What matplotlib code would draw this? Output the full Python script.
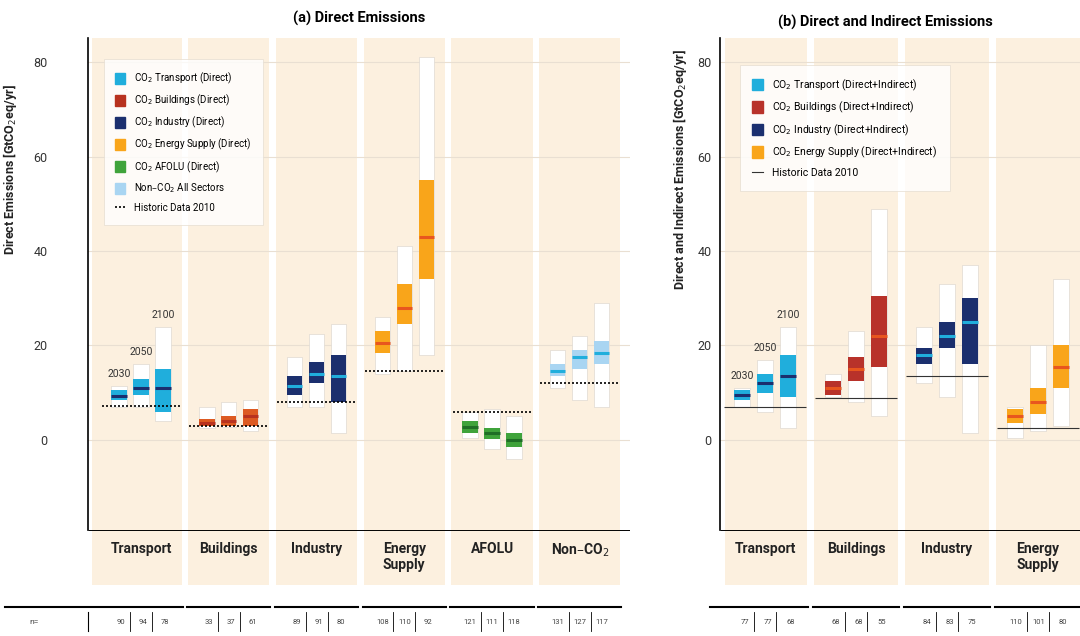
import matplotlib.pyplot as plt
import matplotlib.transforms as mtransforms
from matplotlib.lines import Line2D
from matplotlib.patches import Patch

plt.rcParams['font.family'] = ['Roboto', 'DejaVu Sans']

# Data
# ----------------------------------------------------------------------------

years = ['2030', '2050', '2100']

# panel (a): direct emissions [GtCO2eq/yr], per sector: min, q25, median, q75, max
sectors_a = ['Transport', 'Buildings', 'Industry', 'Energy\nSupply', 'AFOLU', 'Non–CO$_2$']
hist_a = [7.2, 3.0, 8.0, 14.5, 6.0, 12.0]
min_a = [[7.0, 7.0, 4.0], [2.5, 2.7, 2.0], [7.0, 7.0, 1.5], [14.0, 14.5, 18.0], [0.5, -2.0, -4.0], [11.0, 8.5, 7.0]]
q25_a = [[8.5, 9.5, 6.0], [3.0, 3.0, 3.0], [9.5, 12.0, 8.0], [18.5, 24.5, 34.0], [1.5, 0.2, -1.5], [13.5, 15.0, 16.0]]
med_a = [[9.3, 11.0, 11.0], [3.6, 4.0, 5.0], [11.5, 14.0, 13.5], [20.5, 28.0, 43.0], [2.8, 1.5, 0.0], [14.5, 17.5, 18.5]]
q75_a = [[10.5, 13.0, 15.0], [4.5, 5.0, 6.5], [13.5, 16.5, 18.0], [23.0, 33.0, 55.0], [4.0, 2.5, 1.5], [16.0, 19.0, 21.0]]
max_a = [[11.5, 16.0, 24.0], [7.0, 8.0, 8.5], [17.5, 22.5, 24.5], [26.0, 41.0, 81.0], [6.0, 6.5, 5.0], [19.0, 22.0, 29.0]]
n_a = [[90, 94, 78], [33, 37, 61], [89, 91, 80], [108, 110, 92], [121, 111, 118], [131, 127, 117]]

# panel (b): direct and indirect emissions
sectors_b = ['Transport', 'Buildings', 'Industry', 'Energy\nSupply']
hist_b = [7.0, 8.8, 13.5, 2.5]
min_b = [[7.0, 6.0, 2.5], [9.0, 8.0, 5.0], [12.0, 9.0, 1.5], [0.5, 2.0, 3.0]]
q25_b = [[8.5, 10.0, 9.0], [9.5, 12.5, 15.5], [16.0, 19.5, 16.0], [3.5, 5.5, 11.0]]
med_b = [[9.5, 12.0, 13.5], [11.0, 15.0, 22.0], [18.0, 22.0, 25.0], [5.0, 8.0, 15.5]]
q75_b = [[10.5, 14.0, 18.0], [12.5, 17.5, 30.5], [19.5, 25.0, 30.0], [6.5, 11.0, 20.0]]
max_b = [[11.0, 17.0, 24.0], [14.0, 23.0, 49.0], [24.0, 33.0, 37.0], [7.0, 20.0, 34.0]]
n_b = [[77, 77, 68], [68, 68, 55], [84, 83, 75], [110, 101, 80]]

# colours: box fill, median line
colors_a = [('#20aedc', '#1b2f6e'), ('#dd5a22', '#b8321f'), ('#1b2f6e', '#20aedc'),
            ('#f9a51a', '#e8561e'), ('#3fa33b', '#1f6e26'), ('#a9d5f2', '#20aedc')]
colors_b = [('#20aedc', '#1b2f6e'), ('#b8322a', '#e8561e'), ('#1b2f6e', '#20aedc'),
            ('#f9a51a', '#e8561e')]

beige = '#fcf0df'

# Plot
# ----------------------------------------------------------------------------


def draw_panel(ax, sectors, hist, mins, q25s, meds, q75s, maxs, ns, colors, hist_style,
               ylabel, tick_pad, label_x, table_x0):
    x_left, x_right = ax.get_xlim()
    trans = mtransforms.blended_transform_factory(ax.transData, ax.transAxes)
    for i, name in enumerate(sectors):
        c = 4 * i
        left = x_left + 0.2 if i == 0 else c - 1.85
        ax.axvspan(left, c + 1.85, color=beige, lw=0, zorder=0)
        xs = [c - 1, c, c + 1]
        for j, x in enumerate(xs):
            ax.bar(x, maxs[i][j] - mins[i][j], bottom=mins[i][j], width=0.7,
                   color='white', edgecolor='#d8d2ca', lw=0.4, zorder=3)
            ax.bar(x, q75s[i][j] - q25s[i][j], bottom=q25s[i][j], width=0.7,
                   color=colors[i][0], lw=0, zorder=4)
            ax.hlines(meds[i][j], x - 0.35, x + 0.35, color=colors[i][1], lw=2.2, zorder=5)
        ax.hlines(hist[i], c - 1.8, c + 1.8, zorder=6, **hist_style)
        ax.text(c, -21.5, name, ha='center', va='top', fontsize=10, fontweight='bold', color='#222222')
        # table of scenario counts
        x0 = table_x0 if i == 0 else c - 1.9
        ax.plot([x0, c + 1.9], [-0.04, -0.04], color='black', lw=1.5, transform=trans, clip_on=False)
        for j, x in enumerate(xs):
            ax.text(x + 0.3, -0.068, str(ns[i][j]), ha='right', va='center', fontsize=5.5,
                    color='#444444', transform=trans)
            if j < 2:
                ax.plot([x + 0.5, x + 0.5], [-0.05, -0.085], color='black', lw=0.6,
                        transform=trans, clip_on=False)
    for v in [0, 20, 40, 60, 80]:
        ax.axhline(v, color='#e9dfd2', lw=0.8, zorder=1)
    ax.set_ylim(-30.7, 85.1)
    ax.set_yticks([0, 20, 40, 60, 80])
    ax.tick_params(axis='y', length=0, pad=tick_pad, labelsize=9, labelcolor='#333333')
    ax.set_xticks([])
    for s in ['top', 'right', 'bottom']:
        ax.spines[s].set_visible(False)
    ax.spines['left'].set_bounds(-19, 85.1)
    ax.spines['left'].set_linewidth(1.2)
    ax.hlines(-19, x_left, x_right, color='black', lw=0.7, zorder=7)
    ax.set_ylabel(ylabel, fontsize=9, fontweight='bold', color='#222222')
    ax.yaxis.set_label_coords(label_x, 0.76)


fig = plt.figure(figsize=(10.8, 6.36), dpi=100)
ax_a = fig.add_axes([0.0815, 0.0802, 0.502, 0.8601])
ax_b = fig.add_axes([0.6667, 0.0802, 0.3333, 0.8601])
ax_a.set_xlim(-2.42, 22.3)
ax_b.set_xlim(-1.98, 13.85)

draw_panel(ax_a, sectors_a, hist_a, min_a, q25_a, med_a, q75_a, max_a, n_a, colors_a,
           dict(colors='black', linestyles=(0, (1.2, 1.2)), lw=1.2),
           'Direct Emissions [GtCO$_2$eq/yr]', 29, -0.128, -6.2)
draw_panel(ax_b, sectors_b, hist_b, min_b, q25_b, med_b, q75_b, max_b, n_b, colors_b,
           dict(colors='#333333', linestyles='-', lw=0.8),
           'Direct and Indirect Emissions [GtCO$_2$eq/yr]', 6, -0.085, -2.4)

# year labels above transport bars
for ax, maxs in [(ax_a, max_a), (ax_b, max_b)]:
    for j, yr in enumerate(years):
        ax.text(j - 1, maxs[0][j] + 1.5, yr, ha='center', va='bottom', fontsize=7.5, color='#333333', zorder=8)

# row label of the table
trans = mtransforms.blended_transform_factory(ax_a.transAxes, ax_a.transAxes)
ax_a.text(-0.10, -0.068, 'n=', ha='center', va='center', fontsize=6, color='#444444', transform=trans)
ax_a.plot([0, 0], [-0.05, -0.085], color='black', lw=0.8, transform=trans, clip_on=False)

ax_a.set_title('(a) Direct Emissions', fontsize=10.5, fontweight='bold', pad=11)
fig.text(0.82, 0.965, '(b) Direct and Indirect Emissions', ha='center', va='center',
         fontsize=10.5, fontweight='bold')

# legends
handles_a = [Patch(color=colors_a[0][0], label='CO$_2$ Transport (Direct)'),
             Patch(color=colors_a[1][1], label='CO$_2$ Buildings (Direct)'),
             Patch(color=colors_a[2][0], label='CO$_2$ Industry (Direct)'),
             Patch(color=colors_a[3][0], label='CO$_2$ Energy Supply (Direct)'),
             Patch(color=colors_a[4][0], label='CO$_2$ AFOLU (Direct)'),
             Patch(color=colors_a[5][0], label='Non–CO$_2$ All Sectors'),
             Line2D([], [], color='black', ls=(0, (1.2, 1.2)), lw=1.2, label='Historic Data 2010')]
leg = ax_a.legend(handles=handles_a, loc='upper left', bbox_to_anchor=(0.02, 0.97), fontsize=7,
                  frameon=True, fancybox=False, edgecolor='#e5dccf', handlelength=1.0,
                  handleheight=1.3, labelspacing=0.72, borderpad=1.2, handletextpad=0.9)
leg.get_frame().set_linewidth(0.6)

handles_b = [Patch(color=colors_b[0][0], label='CO$_2$ Transport (Direct+Indirect)'),
             Patch(color=colors_b[1][0], label='CO$_2$ Buildings (Direct+Indirect)'),
             Patch(color=colors_b[2][0], label='CO$_2$ Industry (Direct+Indirect)'),
             Patch(color=colors_b[3][0], label='CO$_2$ Energy Supply (Direct+Indirect)'),
             Line2D([], [], color='#333333', lw=0.8, label='Historic Data 2010')]
leg = ax_b.legend(handles=handles_b, loc='upper left', bbox_to_anchor=(0.04, 0.96), fontsize=7.5,
                  frameon=True, fancybox=False, edgecolor='#e5dccf', handlelength=1.0,
                  handleheight=1.3, labelspacing=0.7, borderpad=1.2, handletextpad=0.9)
leg.get_frame().set_linewidth(0.6)

fig.savefig('out.png', dpi=100)
